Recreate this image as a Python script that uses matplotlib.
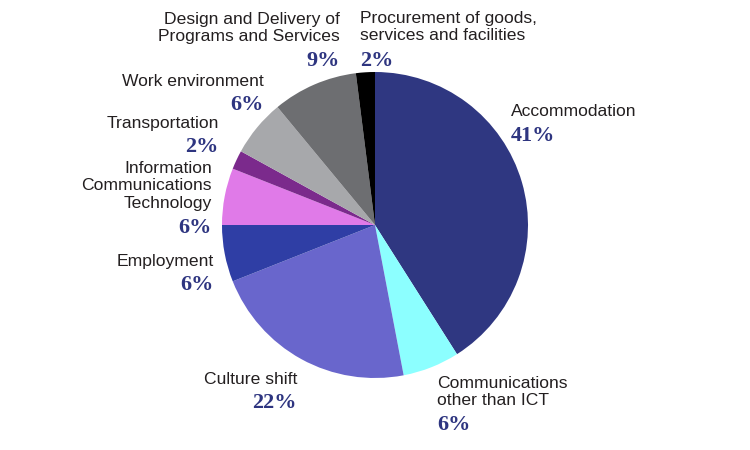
import matplotlib.pyplot as plt

# data
labels = ["Accommodation", "Communications\nother than ICT", "Culture shift",
          "Employment", "Information\nCommunications\nTechnology", "Transportation",
          "Work environment", "Design and Delivery of\nPrograms and Services",
          "Procurement of goods,\nservices and facilities"]
values = [41, 6, 22, 6, 6, 2, 6, 9, 2]
colors = ["#2f3781", "#8cffff", "#6966cc", "#2f3ea5", "#e07ae8", "#7b2a8c",
          "#a7a8ab", "#6d6e71", "#000000"]

# label anchors in pixels (x, y of first line top, alignment)
label_pos = [(511, 104, "left"), (437, 376, "left"), (297, 372, "right"),
             (214, 254, "right"), (212, 161, "right"), (219, 116, "right"),
             (264, 74, "right"), (340, 12, "right"), (360, 11, "left")]

W, H = 750, 450
cx, cy, r = 375, 225, 153

fig = plt.figure(figsize=(7.5, 4.5), dpi=100)
ax = fig.add_axes([(cx - r) / W, (H - cy - r) / H, 2 * r / W, 2 * r / H])
ax.pie(values, colors=colors, startangle=90, counterclock=False,
       wedgeprops=dict(linewidth=0))
ax.set_xlim(-1, 1)
ax.set_ylim(-1, 1)
ax.set_aspect("equal")
ax.axis("off")

line_h = 18
for lab, val, (px, py, ha) in zip(labels, values, label_pos):
    n = lab.count("\n") + 1
    fig.text(px / W, 1 - py / H, lab, ha=ha, va="top", fontsize=12.6,
             family="Liberation Sans", color="#231f20", linespacing=1.2)
    fig.text(px / W, 1 - (py + (n - 1) * line_h + 21.5) / H, f"{val}%",
             ha=ha, va="top", fontsize=16, family="Liberation Serif",
             fontweight="bold", color="#2e3580")

fig.savefig("out.png", dpi=100)
